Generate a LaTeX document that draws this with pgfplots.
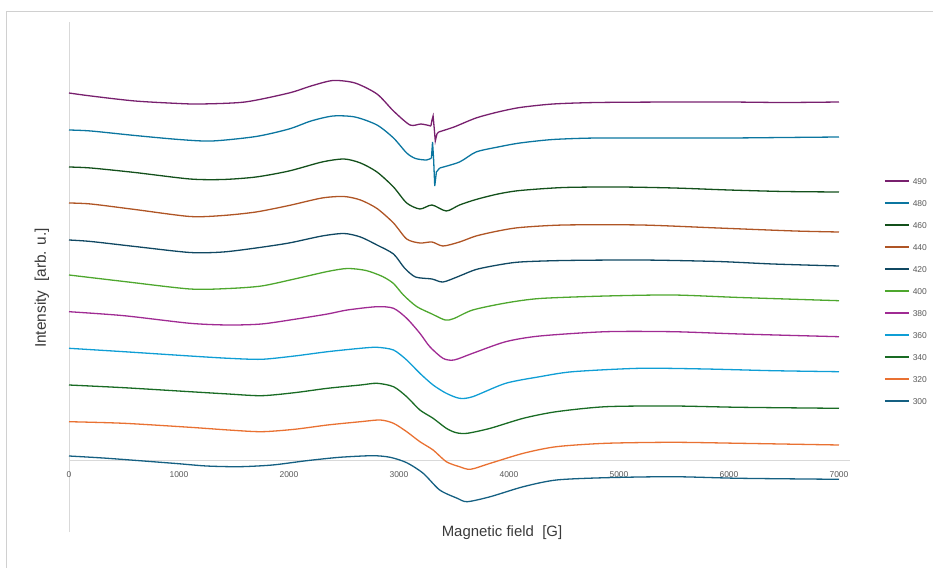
\documentclass[border=0pt]{standalone}
\usepackage{pgfplots}
\pgfplotsset{compat=1.18}
\usepackage{fontspec}
\setmainfont{Liberation Sans}
\definecolor{c300}{HTML}{156082}
\definecolor{c320}{HTML}{E97132}
\definecolor{c340}{HTML}{196B24}
\definecolor{c360}{HTML}{0F9ED5}
\definecolor{c380}{HTML}{A02B93}
\definecolor{c400}{HTML}{4EA72E}
\definecolor{c420}{HTML}{104862}
\definecolor{c440}{HTML}{AF5525}
\definecolor{c460}{HTML}{13501B}
\definecolor{c480}{HTML}{0B76A0}
\definecolor{c490}{HTML}{78206E}
\definecolor{axisgray}{HTML}{D9D9D9}
\definecolor{tickgray}{HTML}{595959}
\definecolor{labelgray}{HTML}{3A3A3A}
\definecolor{framegray}{HTML}{D0D0D0}
\newcommand{\legtxt}[1]{\textcolor{tickgray}{#1}}
\begin{document}
\begin{tikzpicture}
\useasboundingbox (-69bp,-36bp) rectangle (864bp,532bp);
\draw[framegray, line width=0.8bp] (-63bp,-36bp) -- (-63bp,521bp) -- (864bp,521bp);
\begin{axis}[
  at={(0,0)}, anchor=south west, scale only axis,
  width=781bp, height=510bp,
  xmin=0, xmax=7100, ymin=-72, ymax=438,
  axis x line=middle, axis y line=left,
  axis line style={-, draw=axisgray, line width=0.9bp},
  xtick={0,1000,...,7000}, ytick=\empty, major tick length=0pt,
  hide obscured x ticks=false,
  xticklabel style={font=\fontsize{8.5}{9}\selectfont, text=tickgray, yshift=-8bp},
  /pgf/number format/assume math mode=true,
  /pgf/number format/set thousands separator={},
  y filter/.expression={460-y},
  clip=false,
  every axis plot/.append style={line width=1.3bp, smooth, tension=0.45},
  legend style={draw=none, fill=none, inner sep=0pt, at={(1.0435,0.694)}, anchor=north west,
    row sep=16bp, column sep=3bp, font=\fontsize{8.5}{9}\selectfont,
    nodes={inner sep=0pt, text height=6bp, text depth=0bp}},
  legend image code/.code={\draw[mark repeat=2,mark phase=2,#1, line width=1.6bp] plot coordinates {(0bp,0bp) (12bp,0bp) (24bp,0bp)};},
  legend cell align=left,
]
% 490
\addplot[color=c490] coordinates {(0,93) (200,96) (600,101) (1000,103.5) (1200,104) (1600,102) (2000,93) (2200,86) (2400,80.5) (2600,83) (2800,94) (2950,111) (3100,125) (3200,124) (3290,126)};
\addlegendentry{\legtxt{490}}
\addplot[color=c490, sharp plot, forget plot] coordinates {(3290,126) (3300,120) (3310,116) (3320,128) (3330,141) (3345,134) (3360,132)};
\addplot[color=c490, forget plot] coordinates {(3360,132) (3500,127) (3700,118) (3900,112) (4100,107.5) (4400,104) (4800,102.5) (5500,102) (6000,102) (6500,102.5) (7000,102)};
% 480
\addplot[color=c480] coordinates {(0,130) (200,131) (600,135.5) (1000,139.5) (1300,141) (1700,136.5) (2000,129) (2200,121) (2400,116) (2600,117) (2800,125) (2950,138) (3070,153) (3150,158.5) (3250,160) (3295,158)};
\addlegendentry{\legtxt{480}}
\addplot[color=c480, sharp plot, forget plot] coordinates {(3295,158) (3305,142) (3315,160) (3325,186) (3340,172) (3370,168)};
\addplot[color=c480, forget plot] coordinates {(3370,168) (3550,162) (3700,152) (3900,147) (4100,143) (4400,139.5) (4800,138) (5500,138) (6000,138) (6500,137.5) (7000,137)};
% 460
\addplot[color=c460] coordinates {(0,167) (200,168) (600,172.5) (1100,179) (1400,179.5) (1700,177) (2000,171) (2300,162) (2500,159) (2650,163) (2800,172) (2950,187) (3070,203) (3190,209) (3300,205) (3430,211) (3550,205) (3700,199.5) (3900,194) (4100,190.5) (4500,187.5) (5000,187) (5500,188) (6000,190) (6500,191.5) (7000,192)};
\addlegendentry{\legtxt{460}}
% 440
\addplot[color=c440] coordinates {(0,203) (200,204) (600,209.5) (1100,216.5) (1400,215.5) (1700,212) (2000,205.5) (2300,198) (2500,196.5) (2650,200) (2800,208.5) (2950,223) (3070,239) (3190,243) (3300,242) (3400,246) (3550,242) (3700,236) (3900,231) (4100,227.5) (4500,225) (5200,225) (5900,228) (6600,231) (7000,232)};
\addlegendentry{\legtxt{440}}
% 420
\addplot[color=c420] coordinates {(0,240) (200,241.5) (600,246.5) (1100,252.5) (1400,252) (1700,248) (2000,243) (2300,236) (2500,233.5) (2650,237) (2800,245) (2950,254) (3050,268) (3150,277) (3300,279) (3400,282) (3550,276) (3700,269.5) (3900,265) (4100,262) (4500,260.5) (5200,260) (5900,261.5) (6400,264) (7000,266)};
\addlegendentry{\legtxt{420}}
% 400
\addplot[color=c400] coordinates {(0,275) (500,281.5) (1100,289) (1450,288.5) (1750,286) (2050,279) (2350,271.5) (2530,268.5) (2700,270.5) (2850,276.5) (2950,283.5) (3040,295) (3160,306.5) (3300,314) (3420,320) (3500,318.5) (3670,310) (3970,303) (4280,298.5) (4880,296) (5490,295) (6100,297.5) (7000,300.7)};
\addlegendentry{\legtxt{400}}
% 380
\addplot[color=c380] coordinates {(0,311.7) (500,315.7) (1100,323.3) (1450,325) (1750,324) (2050,319.3) (2350,314) (2530,310) (2800,306.7) (2950,308.3) (3070,318.3) (3190,333.3) (3280,346.7) (3400,358.3) (3500,360) (3670,353.3) (3970,341.7) (4280,336) (4880,331.7) (5490,331.7) (6100,334) (7000,336.7)};
\addlegendentry{\legtxt{380}}
% 360
\addplot[color=c360] coordinates {(0,348.3) (500,351.7) (1100,356) (1450,358.3) (1750,359.3) (2050,356) (2350,351.7) (2650,348.3) (2800,347.3) (2950,350) (3070,360) (3190,373.3) (3310,385) (3430,393.3) (3550,398.3) (3670,396.7) (3970,383.3) (4280,376.7) (4580,371.7) (5190,368.3) (5790,369) (6400,370.7) (7000,371.7)};
\addlegendentry{\legtxt{360}}
% 340
\addplot[color=c340] coordinates {(0,385) (500,387.7) (1100,391.7) (1450,394) (1750,395.7) (2050,392.7) (2350,388.3) (2650,385) (2800,383.3) (2950,386.7) (3070,396.7) (3190,410) (3310,418.3) (3430,428.3) (3520,432.7) (3620,433.3) (3830,428.3) (4130,418.3) (4430,411.7) (4880,406.7) (5490,406) (6100,407.3) (7000,408.3)};
\addlegendentry{\legtxt{340}}
% 320
\addplot[color=c320] coordinates {(0,421.7) (500,423.3) (1100,427.3) (1450,430) (1750,431.7) (2050,429.3) (2350,425) (2650,421.7) (2830,420) (2950,423.3) (3070,431.7) (3190,441.7) (3310,450) (3430,461.7) (3550,466.7) (3650,469.3) (3830,463.3) (4130,453.3) (4430,446.7) (4880,443.3) (5490,442.3) (6100,443.3) (7000,445)};
\addlegendentry{\legtxt{320}}
% 300
\addplot[color=c300] coordinates {(0,456) (350,458.3) (950,463.3) (1250,466) (1550,466.7) (1850,465) (2160,460.7) (2460,457.3) (2760,455.7) (2920,457.3) (3070,462.7) (3220,473.3) (3370,490) (3530,498.3) (3620,501.7) (3830,496.7) (4130,486.7) (4430,480) (4880,477.7) (5490,476.7) (6100,478.3) (7000,479.3)};
\addlegendentry{\legtxt{300}}
\end{axis}
\node[rotate=90, font=\fontsize{15.5}{17}\selectfont, text=labelgray] at (-27bp,244bp) {Intensity\ \ [arb. u.]};
\node[font=\fontsize{15}{17}\selectfont, text=labelgray] at (433bp,-1bp) {Magnetic field\ \ [G]};
\end{tikzpicture}
\end{document}
